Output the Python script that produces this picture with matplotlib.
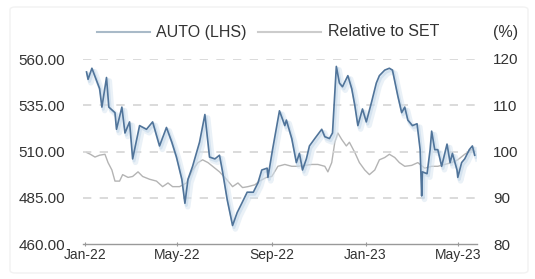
import matplotlib
matplotlib.use("Agg")
import matplotlib.pyplot as plt
import matplotlib.dates as mdates
import matplotlib.patheffects as pe
from matplotlib.lines import Line2D
from matplotlib.patches import FancyBboxPatch
import pandas as pd

plt.rcParams['font.family'] = ['Liberation Sans', 'DejaVu Sans']

# ---- data ----
auto_dates = ["2022-01-03", "2022-01-05", "2022-01-10", "2022-01-20", "2022-01-23", "2022-01-29",
              "2022-02-01", "2022-02-09", "2022-02-11", "2022-02-18", "2022-02-22", "2022-02-28",
              "2022-03-04", "2022-03-13", "2022-03-22", "2022-03-30", "2022-04-08", "2022-04-17",
              "2022-04-24", "2022-04-30", "2022-05-07", "2022-05-11", "2022-05-15", "2022-05-21",
              "2022-05-30", "2022-06-06", "2022-06-12", "2022-06-19", "2022-06-25", "2022-06-29",
              "2022-07-05", "2022-07-12", "2022-07-18", "2022-07-24", "2022-07-31", "2022-08-08",
              "2022-08-14", "2022-08-19", "2022-08-26", "2022-08-27", "2022-09-02", "2022-09-11",
              "2022-09-18", "2022-09-20", "2022-09-27", "2022-10-03", "2022-10-07", "2022-10-11",
              "2022-10-16", "2022-10-20", "2022-10-27", "2022-11-05", "2022-11-09", "2022-11-15",
              "2022-11-19", "2022-11-24", "2022-11-28", "2022-12-02", "2022-12-09", "2022-12-14",
              "2022-12-18", "2022-12-22", "2022-12-28", "2023-01-02", "2023-01-09", "2023-01-15",
              "2023-01-19", "2023-01-26", "2023-02-01", "2023-02-05", "2023-02-12", "2023-02-17",
              "2023-02-21", "2023-02-25", "2023-03-03", "2023-03-09", "2023-03-13", "2023-03-15",
              "2023-03-16", "2023-03-22", "2023-03-26", "2023-03-28", "2023-04-01", "2023-04-05",
              "2023-04-10", "2023-04-17", "2023-04-21", "2023-04-24", "2023-04-30", "2023-05-01",
              "2023-05-06", "2023-05-10", "2023-05-16", "2023-05-20", "2023-05-23"]
auto_values = [553, 549, 555, 544, 534, 550,
               534, 531, 522, 534, 520, 526,
               506, 524, 522, 526, 513, 523,
               515, 507, 495, 482, 495, 502,
               515, 530, 507, 506, 508, 499,
               484, 470, 477, 482, 488, 488,
               493, 500, 501, 496, 511, 532,
               524, 527, 517, 504, 509, 500,
               506, 513, 517, 522, 518, 517,
               520, 556, 547, 545, 551, 544,
               535, 524, 533, 526, 537, 547,
               551, 554, 555, 554, 540, 531,
               534, 527, 524, 525, 511, 486,
               499, 498, 511, 521, 511, 511,
               502, 514, 504, 509, 500, 496,
               504, 506, 511, 513, 508]

rel_dates = ["2022-01-03", "2022-01-08", "2022-01-14", "2022-01-20", "2022-01-27", "2022-01-31",
             "2022-02-05", "2022-02-09", "2022-02-15", "2022-02-19", "2022-02-26", "2022-03-04",
             "2022-03-11", "2022-03-17", "2022-03-26", "2022-04-04", "2022-04-12", "2022-04-19",
             "2022-04-25", "2022-05-04", "2022-05-13", "2022-05-21", "2022-05-28", "2022-06-03",
             "2022-06-10", "2022-06-16", "2022-06-25", "2022-07-04", "2022-07-12", "2022-07-19",
             "2022-07-25", "2022-08-01", "2022-08-10", "2022-08-16", "2022-08-25", "2022-09-01",
             "2022-09-09", "2022-09-18", "2022-09-27", "2022-10-05", "2022-10-14", "2022-10-23",
             "2022-10-31", "2022-11-09", "2022-11-13", "2022-11-18", "2022-11-22", "2022-11-26",
             "2022-12-01", "2022-12-07", "2022-12-11", "2022-12-18", "2022-12-24", "2022-12-31",
             "2023-01-06", "2023-01-13", "2023-01-19", "2023-01-26", "2023-02-01", "2023-02-08",
             "2023-02-14", "2023-02-21", "2023-03-02", "2023-03-10", "2023-03-19", "2023-03-28",
             "2023-04-05", "2023-04-14", "2023-04-23", "2023-05-01", "2023-05-10", "2023-05-19",
             "2023-05-23"]
rel_values = [99.8, 99.4, 98.8, 99.2, 99.4, 97.6,
              96.0, 93.6, 93.6, 95.0, 94.4, 94.6,
              95.6, 94.6, 94.0, 93.6, 92.4, 93.2,
              92.4, 92.4, 93.2, 96.0, 97.6, 98.2,
              97.6, 96.8, 95.6, 94.0, 92.4, 93.2,
              92.2, 92.4, 92.8, 93.6, 94.4, 94.6,
              96.8, 97.2, 96.8, 96.8, 97.0, 97.2,
              97.2, 96.8, 95.6, 97.6, 102.0, 104.0,
              102.6, 101.2, 102.0, 99.8, 97.6, 96.0,
              95.0, 96.0, 98.2, 98.7, 99.4, 98.7,
              97.6, 96.8, 97.0, 97.6, 96.4, 96.8,
              96.8, 97.2, 97.6, 98.2, 99.4, 100.4,
              100.0]

left_ticks = [460, 485, 510, 535, 560]
right_ticks = [80, 90, 100, 110, 120]
x_ticks = ["2022-01-01", "2022-05-01", "2022-09-01", "2023-01-01", "2023-05-01"]

series_names = ["AUTO (LHS)", "Relative to SET"]

# ---- figure ----
W, H = 535, 279
fig = plt.figure(figsize=(W / 100, H / 100), dpi=100)

# faint outer frame
frame = FancyBboxPatch((10 / W, 6 / H), 518 / W, 266 / H,
                       boxstyle="round,pad=0,rounding_size=0.01",
                       transform=fig.transFigure, facecolor='none',
                       edgecolor='#f2f2f2', linewidth=1.0, zorder=0)
fig.patches.append(frame)

ax_l, ax_r, ax_b, ax_t = 83, 477, 244, 59
ax = fig.add_axes([ax_l / W, 1 - ax_b / H, (ax_r - ax_l) / W, (ax_b - ax_t) / H])
ax2 = ax.twinx()

ad = pd.to_datetime(auto_dates)
rd = pd.to_datetime(rel_dates)

blue = '#50749a'
grey = '#b4b4b4'

ax2.plot(rd, rel_values, color=grey, lw=1.0, zorder=2)

ax.plot(ad, auto_values, color=blue, lw=1.2, zorder=3,
        path_effects=[pe.SimpleLineShadow(offset=(2, -2.5), shadow_color='#d6e4f0', alpha=0.5, linewidth=4),
                      pe.SimpleLineShadow(offset=(1, -1.5), shadow_color='#b9d1e6', alpha=0.45, linewidth=2.2),
                      pe.Normal()])
ax.set_zorder(ax2.get_zorder() + 1)
ax.patch.set_visible(False)

ax.set_ylim(460, 560)
ax2.set_ylim(80, 120)
x0 = pd.Timestamp("2021-12-29 10:00")
x1 = pd.Timestamp("2023-05-26")
ax.set_xlim(x0, x1)

for v in left_ticks[1:]:
    ax.axhline(v, color='#d4d4d4', lw=1.2, ls=(0, (5, 5)), zorder=1)

ax.set_yticks(left_ticks)
ax.set_yticklabels([f"{v:.2f}" for v in left_ticks])
ax2.set_yticks(right_ticks)
ax2.set_yticklabels([str(v) for v in right_ticks])
ax.set_xticks(pd.to_datetime(x_ticks))
ax.xaxis.set_major_formatter(mdates.DateFormatter('%b-%y'))

ax.tick_params(axis='y', length=0, pad=13, labelsize=11, labelcolor='#333333')
ax2.tick_params(axis='y', length=0, pad=11.5, labelsize=11, labelcolor='#333333')
ax.tick_params(axis='x', length=3, direction='inout', color='#999999', width=0.8,
               pad=1.5, labelsize=10, labelcolor='#333333')

for a in (ax, ax2):
    for s in ('top', 'left', 'right', 'bottom'):
        a.spines[s].set_visible(False)
ax.spines['bottom'].set_visible(True)
ax.spines['bottom'].set_color('#999999')
ax.spines['bottom'].set_linewidth(1.0)

# ---- legend (manual, top row) ----
ly = 1 - 32 / H
fig.add_artist(Line2D([97 / W, 150 / W], [ly, ly], color='#a9bac8', lw=1.5, transform=fig.transFigure))
fig.text(156 / W, ly, series_names[0], fontsize=11.5, color='#333333', va='center', ha='left')
fig.add_artist(Line2D([258 / W, 321 / W], [ly, ly], color='#cccccc', lw=1.5, transform=fig.transFigure))
fig.text(328 / W, ly, series_names[1], fontsize=11.5, color='#333333', va='center', ha='left')
fig.text(493 / W, ly, "(%)", fontsize=11.5, color='#333333', va='center', ha='left')

fig.savefig("out.png", dpi=100, facecolor='white')
